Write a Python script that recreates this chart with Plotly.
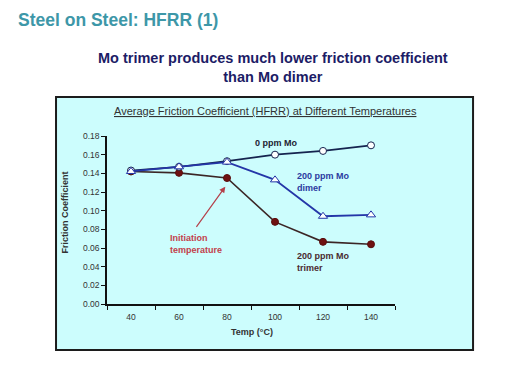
import plotly.graph_objects as go

temps = [40, 60, 80, 100, 120, 140]
mo0 = [0.143, 0.147, 0.153, 0.160, 0.164, 0.170]
dimer = [0.142, 0.147, 0.152, 0.133, 0.094, 0.0955]
trimer = [0.142, 0.1405, 0.135, 0.088, 0.0666, 0.064]
yticks = [0.00, 0.02, 0.04, 0.06, 0.08, 0.10, 0.12, 0.14, 0.16, 0.18]
xbounds = [30, 50, 70, 90, 110, 130, 150]

F = "Liberation Sans, Arial, sans-serif"
fig = go.Figure()
fig.add_trace(go.Scatter(x=temps, y=trimer, mode="lines+markers",
    line=dict(color="#3b2626", width=1.6),
    marker=dict(symbol="circle", size=7, color="#6e1111", line=dict(color="#5a0d0d", width=1))))
fig.add_trace(go.Scatter(x=temps, y=mo0, mode="lines+markers",
    line=dict(color="#15244f", width=1.8),
    marker=dict(symbol="circle", size=7, color="white", line=dict(color="#15244f", width=1))))
fig.add_trace(go.Scatter(x=temps, y=dimer, mode="lines+markers",
    line=dict(color="#2436a8", width=1.8),
    marker=dict(symbol="triangle-up", size=8, color="white", line=dict(color="#2436a8", width=1))))

fig.add_shape(type="rect", xref="paper", yref="paper", x0=-0.177, x1=1.271, y0=-0.274, y1=1.232,
    fillcolor="#ccfdfd", line=dict(color="#1c1c1c", width=2), layer="below")

ann = []
ann.append(dict(text="<b>Steel on Steel: HFRR (1)</b>", xref="paper", yref="paper", x=-0.316, y=1.690,
    xanchor="left", yanchor="middle", showarrow=False, font=dict(family=F, size=17.5, color="#3d97a8")))
ann.append(dict(text="<b>Mo trimer produces much lower friction coefficient<br>than Mo dimer</b>", xref="paper", yref="paper",
    x=0.576, y=1.405, xanchor="center", yanchor="middle", showarrow=False, align="center",
    font=dict(family=F, size=14.5, color="#1c1c66")))
ann.append(dict(text="<u>Average Friction Coefficient (HFRR) at Different Temperatures</u>", xref="paper", yref="paper",
    x=0.549, y=1.149, xanchor="center", yanchor="middle", showarrow=False, font=dict(family=F, size=11, color="#333333")))
ann.append(dict(text="<b>Friction Coefficient</b>", xref="paper", yref="paper", x=-0.146, y=0.545, textangle=-90,
    xanchor="center", yanchor="middle", showarrow=False, font=dict(family=F, size=9, color="#333333")))
ann.append(dict(text="<b>Temp (°C)</b>", xref="paper", yref="paper", x=0.503, y=-0.169,
    xanchor="center", yanchor="middle", showarrow=False, font=dict(family=F, size=9, color="#333333")))
ann.append(dict(text="<b>0 ppm Mo</b>", x=100.8, y=0.1722, xanchor="center", yanchor="middle", showarrow=False,
    font=dict(family=F, size=9, color="#222233")))
ann.append(dict(text="<b>200 ppm Mo<br>dimer</b>", x=108.2, y=0.1307, xanchor="left", yanchor="middle", showarrow=False,
    align="left", font=dict(family=F, size=9, color="#2b3aa0")))
ann.append(dict(text="<b>200 ppm Mo<br>trimer</b>", x=108.2, y=0.0455, xanchor="left", yanchor="middle", showarrow=False,
    align="left", font=dict(family=F, size=9, color="#4a2a30")))
ann.append(dict(text="<b>Initiation<br>temperature</b>", x=55.25, y=0.0648, xanchor="left", yanchor="middle", showarrow=False,
    align="left", font=dict(family=F, size=9, color="#c2404c")))
ann.append(dict(text="", x=79.3, y=0.1257, ax=66.8, ay=0.0811, axref="x", ayref="y", showarrow=True,
    arrowhead=2, arrowsize=1, arrowwidth=1.2, arrowcolor="#b5404a"))

fig.update_layout(width=509, height=367, margin=dict(l=107, r=114, t=136, b=63),
    paper_bgcolor="white", plot_bgcolor="rgba(0,0,0,0)", showlegend=False, annotations=ann,
    xaxis=dict(range=[30, 150], tickvals=temps, ticktext=[str(t) for t in temps], ticks="",
        showgrid=False, zeroline=False, showline=True, linecolor="#111111", linewidth=1.5,
        ticklabelstandoff=4,
        tickfont=dict(family=F, size=8.5, color="#333333"),
        minor=dict(tickvals=xbounds, ticks="outside", ticklen=4, tickcolor="#111111", tickwidth=1.2, showgrid=False)),
    yaxis=dict(range=[0, 0.18], tickvals=yticks, tickformat=".2f", ticks="outside", ticklen=4,
        tickcolor="#111111", tickwidth=1.2, showgrid=False, zeroline=False, showline=True,
        linecolor="#111111", linewidth=1.5, tickfont=dict(family=F, size=8.5, color="#333333")))

fig.write_html("out.html", config={"displayModeBar": False},
    post_script="document.body.style.margin='0';document.body.style.padding='0';")
